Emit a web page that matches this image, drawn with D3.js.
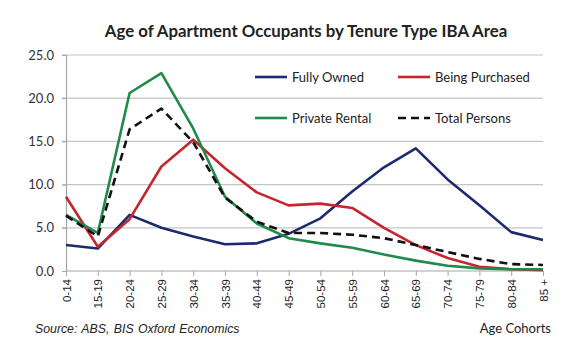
<!DOCTYPE html>
<html>
<head>
<meta charset="utf-8">
<script src="https://cdn.jsdelivr.net/npm/d3@7"></script>
<style>
  body { margin: 0; background: #fff; }
  svg text { fill: #222; }
</style>
</head>
<body>
<div id="chart"></div>
<script>
var categories = ["0-14", "15-19", "20-24", "25-29", "30-34", "35-39", "40-44", "45-49",
                  "50-54", "55-59", "60-64", "65-69", "70-74", "75-79", "80-84", "85 +"];
var fullyOwned     = [3.0, 2.6, 6.5, 5.0, 4.0, 3.1, 3.2, 4.3, 6.1, 9.2, 12.0, 14.2, 10.6, 7.6, 4.5, 3.6];
var beingPurchased = [8.6, 2.8, 6.0, 12.1, 15.2, 11.9, 9.1, 7.6, 7.8, 7.3, 5.0, 3.0, 1.5, 0.5, 0.2, 0.1];
var privateRental  = [6.5, 4.4, 20.6, 22.9, 16.5, 8.6, 5.5, 3.8, 3.2, 2.7, 1.9, 1.2, 0.6, 0.3, 0.2, 0.2];
var totalPersons   = [6.4, 4.0, 16.4, 18.8, 14.9, 8.5, 5.7, 4.4, 4.4, 4.2, 3.8, 3.0, 2.2, 1.4, 0.8, 0.7];
var yTicks = [0, 5, 10, 15, 20, 25];

var series = [
  { name: "Fully Owned",     values: fullyOwned,     color: "#1c2a6e", dash: null },
  { name: "Being Purchased", values: beingPurchased, color: "#c4262e", dash: null },
  { name: "Private Rental",  values: privateRental,  color: "#1f8a4a", dash: null },
  { name: "Total Persons",   values: totalPersons,   color: "#111111", dash: "8,5" }
];

var width = 580, height = 352,
    margin = { left: 66, right: 37, top: 55, bottom: 81 };
var ww = width - margin.left - margin.right,
    hh = height - margin.top - margin.bottom;

function translate(x, y) { return "translate(" + x + "," + y + ")"; }

var svg = d3.select("#chart").append("svg")
    .attr("width", width).attr("height", height);

svg.append("text")
    .attr("x", 306).attr("y", 37)
    .attr("text-anchor", "middle")
    .style("font-family", "Lato, 'Open Sans', sans-serif")
    .style("font-weight", "bold")
    .style("font-size", "16.8px")
    .text("Age of Apartment Occupants by Tenure Type IBA Area");

var g = svg.append("g").attr("transform", translate(margin.left, margin.top));

var xScale = d3.scalePoint().domain(categories).range([0, ww]);
var yScale = d3.scaleLinear().domain([0, 25]).range([hh, 0]);

// gridlines
g.selectAll(".grid").data(yTicks.slice(1)).enter().append("line")
    .attr("class", "grid")
    .attr("x1", -4).attr("x2", ww)
    .attr("y1", function(d) { return yScale(d); })
    .attr("y2", function(d) { return yScale(d); })
    .style("stroke", "#c4c4c4").style("stroke-width", 1.2);

// y axis
var yAxis = d3.axisLeft(yScale).tickValues(yTicks).tickSize(4).tickPadding(8)
    .tickFormat(d3.format(".1f"));
var ya = g.append("g").attr("class", "y-axis").call(yAxis);
ya.select(".domain").style("stroke", "#a6a6a6").style("stroke-width", 1.2);
ya.selectAll(".tick line").style("stroke", "#a6a6a6");
ya.selectAll("text")
    .style("font-family", "Lato, 'Open Sans', sans-serif")
    .style("font-size", "13px").style("fill", "#333");

// x axis
var xAxis = d3.axisBottom(xScale).tickSize(5).tickPadding(5);
var xa = g.append("g").attr("class", "x-axis")
    .attr("transform", translate(0, hh)).call(xAxis);
xa.select(".domain").attr("d", "M0,0H" + ww).style("stroke", "#a6a6a6").style("stroke-width", 1.2);
xa.selectAll(".tick line").style("stroke", "#a6a6a6");
xa.selectAll("text")
    .style("text-anchor", "end")
    .style("font-family", "'Liberation Sans', Arial, sans-serif")
    .style("font-size", "11.5px").style("fill", "#222")
    .attr("transform", "rotate(-90)")
    .attr("x", -8).attr("y", 0).attr("dy", ".35em");

// lines
var line = d3.line()
    .x(function(d, i) { return xScale(categories[i]); })
    .y(function(d) { return yScale(d); });

g.selectAll(".series").data(series).enter().append("path")
    .attr("class", "series")
    .attr("d", function(s) { return line(s.values); })
    .style("fill", "none")
    .style("stroke", function(s) { return s.color; })
    .style("stroke-width", 2.6)
    .style("stroke-linejoin", "round")
    .style("stroke-dasharray", function(s) { return s.dash; });

// legend
var legendPos = [[255, 77], [398, 77], [255, 118], [398, 118]];
var lg = svg.selectAll(".legend").data(series).enter().append("g")
    .attr("class", "legend")
    .attr("transform", function(d, i) { return translate(legendPos[i][0], legendPos[i][1]); });
lg.append("line")
    .attr("x1", 0).attr("x2", 32).attr("y1", 0).attr("y2", 0)
    .style("stroke", function(d) { return d.color; })
    .style("stroke-width", 2.6)
    .style("stroke-dasharray", function(d) { return d.dash; });
lg.append("text")
    .attr("x", 37).attr("y", 0).attr("dy", ".35em")
    .style("font-family", "Lato, 'Open Sans', sans-serif")
    .style("font-size", "13px")
    .text(function(d) { return d.name; });

svg.append("text")
    .attr("x", 35).attr("y", 333)
    .style("font-family", "'Liberation Sans', Arial, sans-serif")
    .style("font-style", "italic").style("font-size", "12.3px")
    .style("word-spacing", "1px")
    .text("Source:  ABS, BIS Oxford  Economics");

svg.append("text")
    .attr("x", 551).attr("y", 333)
    .attr("text-anchor", "end")
    .style("font-family", "Lato, 'Open Sans', sans-serif")
    .style("font-size", "13px")
    .text("Age Cohorts");
</script>
</body>
</html>
